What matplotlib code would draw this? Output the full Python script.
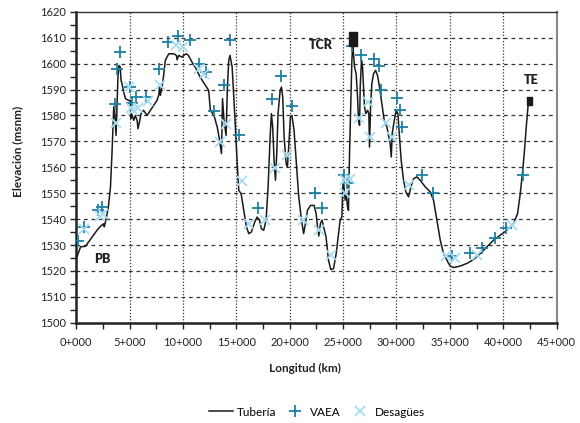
import numpy as np
import matplotlib
matplotlib.use("Agg")
import matplotlib.pyplot as plt
from matplotlib.ticker import MultipleLocator, FuncFormatter

plt.rcParams["font.family"] = ["Lato", "DejaVu Sans"]

# perfil de la tuberia (km, msnm)
tub_km = [0.0, 0.4, 0.85, 1.94, 2.25, 2.56, 2.62, 2.8, 3.0, 3.2, 3.34, 3.44, 3.5, 3.56, 3.72,
          3.81, 3.9, 4.0, 4.12, 4.19, 4.28, 4.44, 4.6, 4.9, 5.06, 5.1, 5.2, 5.38, 5.53, 5.7,
          5.78, 5.94, 6.06, 6.3, 6.63, 6.94, 7.25, 7.56, 7.72, 7.8, 7.88, 8.03, 8.2, 8.34,
          8.66, 9.13, 9.38, 9.44, 9.6, 9.9, 10.06, 10.3, 10.5, 10.84, 11.16, 11.6, 12.1, 12.4,
          12.56, 12.9, 13.2, 13.4, 13.6, 13.7, 13.84, 14.03, 14.16, 14.28, 14.4, 14.6, 14.84,
          15.06, 15.22, 15.44, 15.69, 15.94, 16.16, 16.4, 16.72, 16.94, 17.16, 17.34, 17.56,
          17.78, 17.97, 18.16, 18.28, 18.4, 18.53, 18.66, 18.78, 18.9, 19.1, 19.22, 19.34,
          19.47, 19.66, 19.78, 19.9, 20.06, 20.2, 20.4, 20.6, 20.84, 21.1, 21.3, 21.47, 21.66,
          21.94, 22.28, 22.47, 22.6, 22.72, 22.88, 23.03, 23.2, 23.4, 23.63, 23.85, 24.1,
          24.35, 24.57, 24.72, 24.88, 24.97, 25.04, 25.1, 25.2, 25.29, 25.41, 25.5, 25.6,
          25.72, 25.82, 25.91, 25.97, 26.07, 26.22, 26.35, 26.44, 26.54, 26.6, 26.72, 26.82,
          26.91, 27.0, 27.13, 27.29, 27.41, 27.47, 27.57, 27.69, 27.85, 28.04, 28.22, 28.41,
          28.63, 28.85, 29.1, 29.26, 29.41, 29.51, 29.6, 29.79, 29.97, 30.13, 30.29, 30.44,
          30.66, 30.88, 31.13, 31.35, 31.6, 31.91, 32.22, 32.7, 33.16, 33.47, 33.79, 34.1,
          34.41, 34.72, 34.88, 35.04, 35.35, 35.97, 36.6, 37.22, 37.85, 38.47, 39.1, 39.72,
          40.35, 40.97, 41.35, 41.6, 41.8, 41.97, 42.16, 42.32, 42.38]
tub_m = [1524.8, 1529.3, 1529.5, 1535.7, 1537.2, 1538.2, 1537.0, 1540.2, 1544.7, 1552.4, 1565.3,
         1575.6, 1582.6, 1583.5, 1572.3, 1583.9, 1594.8, 1599.3, 1598.7, 1593.5, 1592.3, 1589.0,
         1586.5, 1585.8, 1585.8, 1578.8, 1580.5, 1578.1, 1580.0, 1578.0, 1574.9, 1578.0, 1580.7,
         1582.0, 1580.0, 1582.0, 1583.9, 1585.8, 1587.8, 1591.0, 1587.8, 1591.0, 1596.1, 1601.3,
         1603.8, 1603.8, 1603.2, 1601.5, 1603.2, 1602.5, 1603.2, 1603.8, 1603.2, 1600.6, 1598.5,
         1594.8, 1591.6, 1589.7, 1582.0, 1580.0, 1575.6, 1571.0, 1565.3, 1586.5, 1578.1, 1572.3,
         1591.0, 1601.3, 1603.2, 1598.7, 1580.7, 1562.7, 1551.1, 1549.8, 1543.4, 1537.0, 1534.4,
         1535.0, 1538.9, 1540.8, 1539.6, 1536.3, 1535.7, 1539.6, 1552.4, 1571.7, 1580.7, 1575.6,
         1562.7, 1555.0, 1565.3, 1580.7, 1589.7, 1591.0, 1587.1, 1571.7, 1561.4, 1560.1, 1567.8,
         1579.4, 1580.0, 1574.3, 1562.7, 1548.6, 1539.6, 1534.4, 1538.3, 1543.4, 1545.3, 1545.3,
         1542.1, 1537.0, 1533.5, 1538.4, 1539.6, 1536.5, 1533.1, 1524.1, 1520.5, 1520.9, 1526.7,
         1534.4, 1539.6, 1540.8, 1552.4, 1555.0, 1551.1, 1547.3, 1549.8, 1544.7, 1543.4, 1565.3,
         1584.5, 1601.3, 1608.5, 1603.8, 1598.7, 1596.1, 1587.1, 1578.1, 1576.2, 1591.0, 1601.3,
         1598.7, 1591.0, 1583.3, 1580.7, 1582.0, 1580.7, 1567.8, 1583.3, 1592.3, 1596.1, 1597.4,
         1595.5, 1591.0, 1584.5, 1578.1, 1575.6, 1572.3, 1569.1, 1564.0, 1573.0, 1578.1, 1582.0,
         1580.7, 1571.7, 1562.7, 1555.0, 1550.5, 1548.6, 1552.4, 1555.6, 1556.3, 1555.0, 1552.4,
         1550.5, 1547.3, 1539.6, 1531.9, 1526.7, 1524.2, 1522.9, 1521.9, 1521.3, 1521.9, 1522.9,
         1524.4, 1526.7, 1529.3, 1531.9, 1533.8, 1535.7, 1538.3, 1542.2, 1549.9, 1557.6, 1565.3,
         1575.6, 1583.3, 1585.2]

# ventosas (VAEA)
vaea_km = [0.12, 0.75, 2.0, 2.45, 3.66, 3.81, 4.12, 5.04, 5.17, 5.6, 6.5, 7.7, 8.56, 9.53,
           10.67, 11.5, 12.16, 12.9, 13.84, 14.38, 15.2, 17.0, 18.31, 19.2, 20.23, 22.39,
           23.05, 25.04, 25.4, 25.87, 26.63, 27.85, 28.35, 28.54, 30.07, 30.29, 30.47, 32.4,
           33.4, 35.2, 36.9, 38.0, 39.25, 40.3, 41.9]
vaea_m = [1531.5, 1537.0, 1543.5, 1544.6, 1584.5, 1597.8, 1604.5, 1590.8, 1584.8, 1587.2, 1587.2,
          1597.8, 1608.4, 1610.5, 1609.3, 1600.0, 1596.6, 1581.8, 1591.8, 1609.0, 1572.5, 1544.4,
          1586.4, 1595.3, 1583.6, 1550.0, 1544.2, 1557.1, 1553.8, 1606.8, 1603.5, 1601.8, 1599.0,
          1589.7, 1586.7, 1582.2, 1575.6, 1557.1, 1550.0, 1525.6, 1527.0, 1528.9, 1532.8, 1536.5,
          1557.1]

# desagues
des_km = [0.72, 2.2, 2.5, 3.72, 4.95, 5.15, 5.35, 5.8, 6.7, 7.85, 9.35, 9.97, 11.5, 11.98,
          13.5, 14.05, 15.5, 16.2, 17.66, 18.66, 19.7, 21.23, 22.7, 23.85, 25.2, 25.2, 25.63,
          26.45, 27.3, 27.48, 29.02, 29.55, 31.21, 34.68, 35.5, 37.5, 40.81]
des_m = [1536.2, 1541.3, 1542.0, 1577.1, 1590.8, 1582.8, 1582.0, 1583.0, 1585.5, 1591.7, 1607.1,
         1606.3, 1598.1, 1596.0, 1569.8, 1576.9, 1554.9, 1538.2, 1539.5, 1559.7, 1564.6, 1539.7,
         1535.9, 1526.1, 1550.2, 1555.0, 1555.3, 1579.2, 1585.2, 1571.7, 1577.0, 1571.7, 1553.0,
         1525.6, 1525.0, 1526.1, 1537.7]

fig = plt.figure(figsize=(5.8, 4.23), dpi=100)
ax = fig.add_axes([0.1316, 0.237, 0.828, 0.735])

ax.set_xlim(0, 45)
ax.set_ylim(1500, 1620)

ax.plot(tub_km, tub_m, color="#1a1a1a", lw=1.1, label="Tubería", zorder=3)
ax.plot(vaea_km, vaea_m, "+", color="#1f7fa3", ms=8, mew=1.3, label="VAEA", zorder=4)
ax.plot(des_km, des_m, "x", color="#a8dcf2", ms=7, mew=1.3, label="Desagües", zorder=4)

# tanques (rectangulos mas altos que anchos)
rect = [(-0.6, -1), (0.6, -1), (0.6, 1), (-0.6, 1), (-0.6, -1)]
ax.plot([25.94], [1609.7], marker=rect, color="#1a1a1a", ms=10, ls="none", zorder=5)
ax.plot([42.42], [1585.5], marker=rect, color="#1a1a1a", ms=6, ls="none", zorder=5)
ax.text(22.9, 1607.2, "TCR", fontsize=9, fontweight="heavy", ha="center", va="center", color="#222222")
ax.text(42.6, 1593.6, "TE", fontsize=9, fontweight="heavy", ha="center", va="center", color="#222222")
ax.text(2.4, 1524.6, "PB", fontsize=9, fontweight="heavy", ha="center", va="center", color="#222222")

ax.xaxis.set_major_locator(MultipleLocator(5))
ax.xaxis.set_minor_locator(MultipleLocator(2.5))
ax.yaxis.set_major_locator(MultipleLocator(10))
ax.yaxis.set_minor_locator(MultipleLocator(5))
ax.xaxis.set_major_formatter(FuncFormatter(lambda v, p: f"{int(round(v))}+000"))

ax.tick_params(axis="both", which="both", direction="out", length=4, width=1.0,
               color="#222222", labelsize=8, labelcolor="#222222")
ax.tick_params(axis="x", pad=6)

for y in range(1510, 1620, 10):
    ax.axhline(y, color="#333333", lw=0.9, ls=(0, (3, 3)), zorder=1)
for x in range(5, 45, 5):
    ax.axvline(x, color="#333333", lw=0.9, ls=(0, (1, 1.5)), zorder=1)

ax.spines["left"].set_linewidth(1.8)
ax.spines["bottom"].set_linewidth(1.8)
ax.spines["left"].set_color("#222222")
ax.spines["bottom"].set_color("#222222")
ax.spines["top"].set_linewidth(1.0)
ax.spines["top"].set_color("#333333")
ax.spines["right"].set_linewidth(1.5)
ax.spines["right"].set_color("#888888")

ax.set_xlabel("Longitud (km)", fontsize=8.5, fontweight="bold", color="#222222")
ax.xaxis.set_label_coords(0.475, -0.13)
ax.set_ylabel("Elevación (msnm)", fontsize=8.5, fontweight="bold", color="#222222")
ax.yaxis.set_label_coords(-0.11, 0.55)

fig.legend(loc="center", bbox_to_anchor=(0.547, 0.026), ncol=3, frameon=False, fontsize=8.5,
           handlelength=2.0, handletextpad=0.3, columnspacing=0.6)

fig.savefig("out.png", dpi=100)
